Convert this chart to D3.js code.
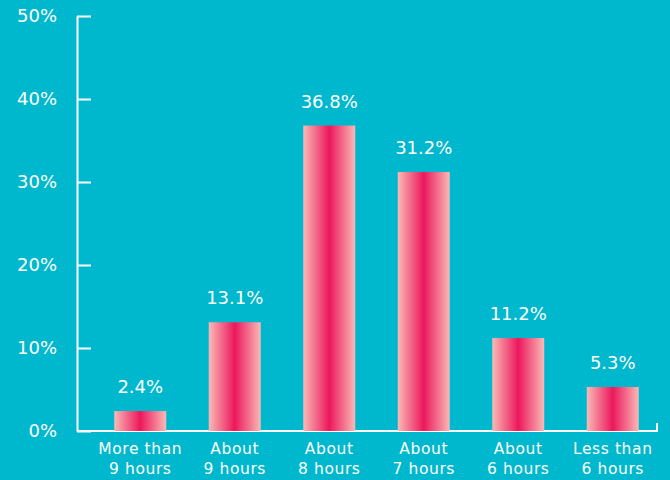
<!DOCTYPE html>
<html>
<head>
<meta charset="utf-8">
<script src="https://cdn.jsdelivr.net/npm/d3@7"></script>
<style>
  html, body { margin: 0; padding: 0; background: #00b8cd; }
  svg { display: block; }
  text { font-family: "DejaVu Sans", sans-serif; fill: #ffffff; }
</style>
</head>
<body>
<svg id="chart" width="670" height="480"></svg>
<script>
// Share of respondents by usual nightly sleep
const categories = [
  ["More than", "9 hours"],
  ["About", "9 hours"],
  ["About", "8 hours"],
  ["About", "7 hours"],
  ["About", "6 hours"],
  ["Less than", "6 hours"]
];
const values = [2.4, 13.1, 36.8, 31.2, 11.2, 5.3];
const yTicks = [0, 10, 20, 30, 40, 50];

const svg = d3.select("#chart");
const W = 670, H = 480;

svg.append("rect").attr("width", W).attr("height", H).attr("fill", "#00b8cd");

const x = d3.scaleBand()
  .domain(d3.range(values.length))
  .range([93, 660])
  .paddingInner(0.45)
  .paddingOuter(0.225);

const y = d3.scaleLinear().domain([0, 50]).range([431, 16]);

// Horizontal gradient: pale edges, deep pink centre
const defs = svg.append("defs");
const grad = defs.append("linearGradient")
  .attr("id", "barGrad")
  .attr("x1", "0%").attr("x2", "100%").attr("y1", "0%").attr("y2", "0%");
grad.append("stop").attr("offset", "0%").attr("stop-color", "#f9bab6");
grad.append("stop").attr("offset", "50%").attr("stop-color", "#ec175c");
grad.append("stop").attr("offset", "100%").attr("stop-color", "#f9bab6");

// Y axis
const yAxis = d3.axisRight(y)
  .tickValues(yTicks)
  .tickSize(14)
  .tickSizeOuter(0)
  .tickFormat(d => d + "%");
const gy = svg.append("g").attr("transform", "translate(77,0)").call(yAxis);
gy.selectAll("path, line").attr("stroke", "#ffffff").attr("stroke-width", 2);
gy.selectAll("text")
  .attr("x", -20)
  .attr("text-anchor", "end")
  .style("font-size", "18px")
  .attr("fill", "#ffffff");

// Baseline with a short end tick
svg.append("path")
  .attr("d", `M77,431H657V423`)
  .attr("fill", "none")
  .attr("stroke", "#ffffff")
  .attr("stroke-width", 2);

// Bars
svg.append("g").selectAll("rect")
  .data(values)
  .join("rect")
  .attr("x", (d, i) => x(i))
  .attr("width", x.bandwidth())
  .attr("y", d => y(d))
  .attr("height", d => y(0) - y(d))
  .attr("fill", "url(#barGrad)");

// Value labels
svg.append("g").selectAll("text")
  .data(values)
  .join("text")
  .attr("x", (d, i) => x(i) + x.bandwidth() / 2)
  .attr("y", d => y(d) - 18)
  .attr("text-anchor", "middle")
  .style("font-size", "18px")
  .text(d => d.toFixed(1) + "%");

// Category labels
const cat = svg.append("g").selectAll("text")
  .data(categories)
  .join("text")
  .attr("text-anchor", "middle")
  .style("font-size", "15.5px")
  .style("letter-spacing", "0.6px")
  .attr("transform", (d, i) => `translate(${x(i) + x.bandwidth() / 2},0)`);
cat.append("tspan").attr("x", 0).attr("y", 454).text(d => d[0]);
cat.append("tspan").attr("x", 0).attr("y", 474).text(d => d[1]);
</script>
</body>
</html>
